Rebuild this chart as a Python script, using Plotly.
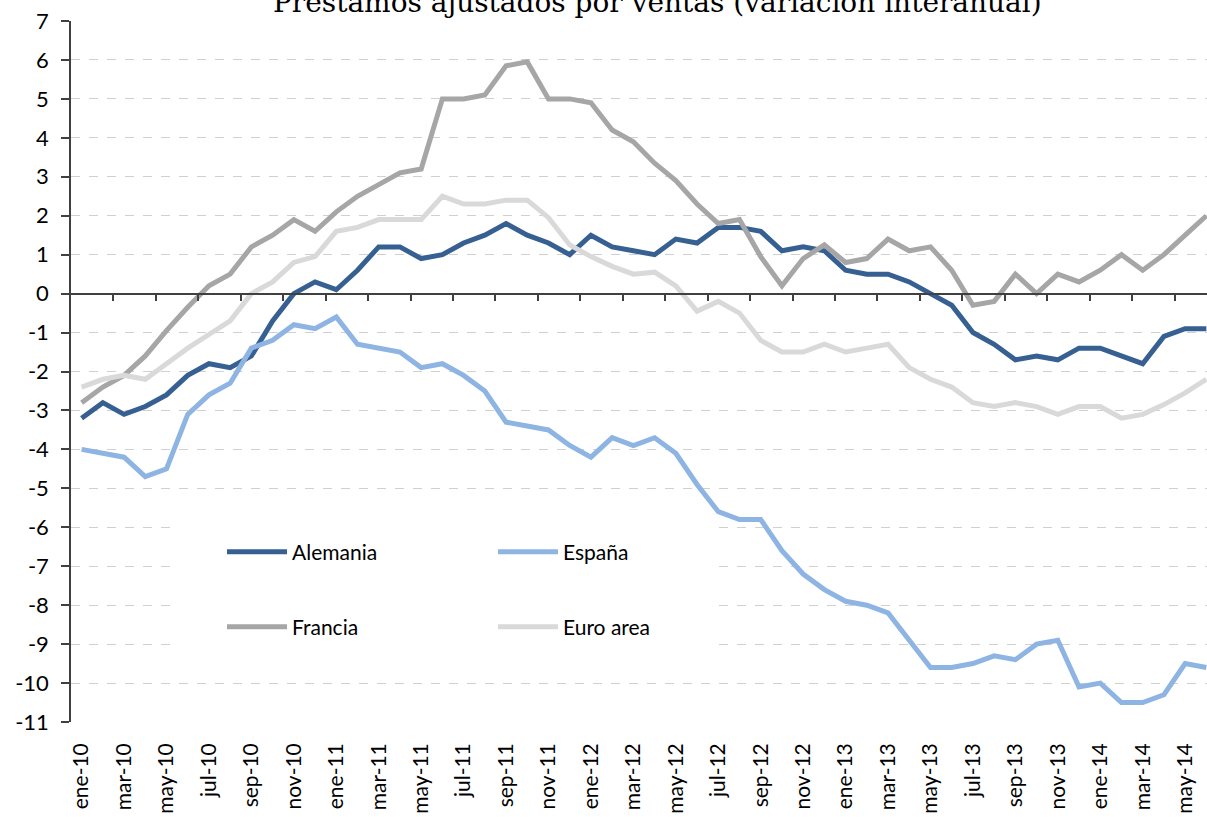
import plotly.graph_objects as go

meses = ["ene", "feb", "mar", "abr", "may", "jun", "jul", "ago", "sep", "oct", "nov", "dic"]
fechas = [f"{m}-{a}" for a in range(10, 15) for m in meses][:54]   # ene-10 .. jun-14

alemania = [-3.2, -2.8, -3.1, -2.9, -2.6, -2.1, -1.8, -1.9, -1.6, -0.7,
            0.0, 0.3, 0.1, 0.6, 1.2, 1.2, 0.9, 1.0, 1.3, 1.5,
            1.8, 1.5, 1.3, 1.0, 1.5, 1.2, 1.1, 1.0, 1.4, 1.3,
            1.7, 1.7, 1.6, 1.1, 1.2, 1.1, 0.6, 0.5, 0.5, 0.3,
            0.0, -0.3, -1.0, -1.3, -1.7, -1.6, -1.7, -1.4, -1.4, -1.6,
            -1.8, -1.1, -0.9, -0.9]
espana = [-4.0, -4.1, -4.2, -4.7, -4.5, -3.1, -2.6, -2.3, -1.4, -1.2,
          -0.8, -0.9, -0.6, -1.3, -1.4, -1.5, -1.9, -1.8, -2.1, -2.5,
          -3.3, -3.4, -3.5, -3.9, -4.2, -3.7, -3.9, -3.7, -4.1, -4.9,
          -5.6, -5.8, -5.8, -6.6, -7.2, -7.6, -7.9, -8.0, -8.2, -8.9,
          -9.6, -9.6, -9.5, -9.3, -9.4, -9.0, -8.9, -10.1, -10.0, -10.5,
          -10.5, -10.3, -9.5, -9.6]
francia = [-2.8, -2.4, -2.1, -1.6, -0.95, -0.35, 0.2, 0.5, 1.2, 1.5,
           1.9, 1.6, 2.1, 2.5, 2.8, 3.1, 3.2, 5.0, 5.0, 5.1,
           5.85, 5.95, 5.0, 5.0, 4.9, 4.2, 3.9, 3.35, 2.9, 2.3,
           1.8, 1.9, 0.95, 0.2, 0.9, 1.25, 0.8, 0.9, 1.4, 1.1,
           1.2, 0.6, -0.3, -0.2, 0.5, 0.0, 0.5, 0.3, 0.6, 1.0,
           0.6, 1.0, 1.5, 2.0]
euro_area = [-2.4, -2.2, -2.1, -2.2, -1.8, -1.4, -1.05, -0.7, 0.0, 0.3,
             0.8, 0.95, 1.6, 1.7, 1.9, 1.9, 1.9, 2.5, 2.3, 2.3,
             2.4, 2.4, 1.95, 1.25, 0.95, 0.7, 0.5, 0.55, 0.2, -0.45,
             -0.2, -0.5, -1.2, -1.5, -1.5, -1.3, -1.5, -1.4, -1.3, -1.9,
             -2.2, -2.4, -2.8, -2.9, -2.8, -2.9, -3.1, -2.9, -2.9, -3.2,
             -3.1, -2.85, -2.55, -2.2]

y_ticks = list(range(-11, 8))
y_labels = [str(v) for v in y_ticks]   # plain hyphen, as in the original

series = [
    ("Alemania", alemania, "#376092", "legend"),
    ("España", espana, "#8db4e2", "legend"),
    ("Francia", francia, "#a6a6a6", "legend2"),
    ("Euro area", euro_area, "#d9d9d9", "legend2"),
]

idx = list(range(len(fechas)))
FONT = "Lato"
AXIS = "#404040"

# plot area in pixels
L, T, B = 71, 21, 722
PW, PH = 1207 - L, B - T

fig = go.Figure()
for name, vals, color, leg in series:
    fig.add_trace(go.Scatter(
        x=idx, y=vals, name=name, mode="lines",
        line=dict(color=color, width=5),
        legend=leg,
        # euro area goes on the overlay axis that carries the tick marks at y=0
        xaxis="x2" if name == "Euro area" else "x",
    ))

xrange = [-0.5, 53.03]

# white box behind the legend (hides the gridlines there)
fig.add_shape(type="rect", xref="x", yref="y", x0=4.3, x1=30.0, y0=-9.55, y1=-5.5,
              fillcolor="white", line_width=0, layer="between")

fig.update_layout(
    width=1207, height=817,
    margin=dict(l=L, r=0, t=T, b=817 - B, autoexpand=False),
    plot_bgcolor="white", paper_bgcolor="white",
    font=dict(family=FONT, size=20, color="black"),
    xaxis=dict(
        range=xrange, tickvals=idx[::2], ticktext=fechas[::2],
        tickangle=-90, ticks="", showline=False, showgrid=False, zeroline=False,
        tickfont=dict(size=21), ticklabelstandoff=16, automargin=False,
    ),
    xaxis2=dict(
        overlaying="x", matches="x", anchor="free", position=11 / 18, side="bottom",
        range=xrange, tickvals=[i + 0.5 for i in idx[1::2]],
        ticks="outside", ticklen=7, tickwidth=1.5, tickcolor=AXIS,
        showticklabels=False, showline=True, linecolor=AXIS, linewidth=1.5,
        showgrid=False, zeroline=False, automargin=False,
    ),
    yaxis=dict(
        range=[-11, 7], tickvals=y_ticks, ticktext=y_labels,
        ticks="outside", ticklen=8, tickwidth=1.5, tickcolor=AXIS,
        showline=True, linecolor=AXIS, linewidth=1.5,
        showgrid=True, gridcolor="#d0d0d0", griddash="dash", gridwidth=1,
        zeroline=False, ticklabelstandoff=8, tickfont=dict(size=22), automargin=False,
    ),
    legend=dict(orientation="h", x=(222 - L) / PW, xanchor="left",
                y=(B - 552) / PH, yanchor="middle", itemwidth=60,
                entrywidth=196, bgcolor="rgba(0,0,0,0)", font=dict(size=21)),
    legend2=dict(orientation="h", x=(222 - L) / PW, xanchor="left",
                 y=(B - 627) / PH, yanchor="middle", itemwidth=60,
                 entrywidth=196, bgcolor="rgba(0,0,0,0)", font=dict(size=21)),
    annotations=[dict(
        text="Préstamos ajustados por ventas (variación interanual)",
        xref="paper", yref="paper", x=(657 - L) / PW, y=1,
        xanchor="center", yanchor="bottom", showarrow=False,
        font=dict(family="DejaVu Serif", size=28, color="black"),
    )],
)

# drop the browser's default body margin so the figure sits at the window's corner
fig.write_html("out.html", config={"displayModeBar": False},
               post_script="document.body.style.margin='0px';")
